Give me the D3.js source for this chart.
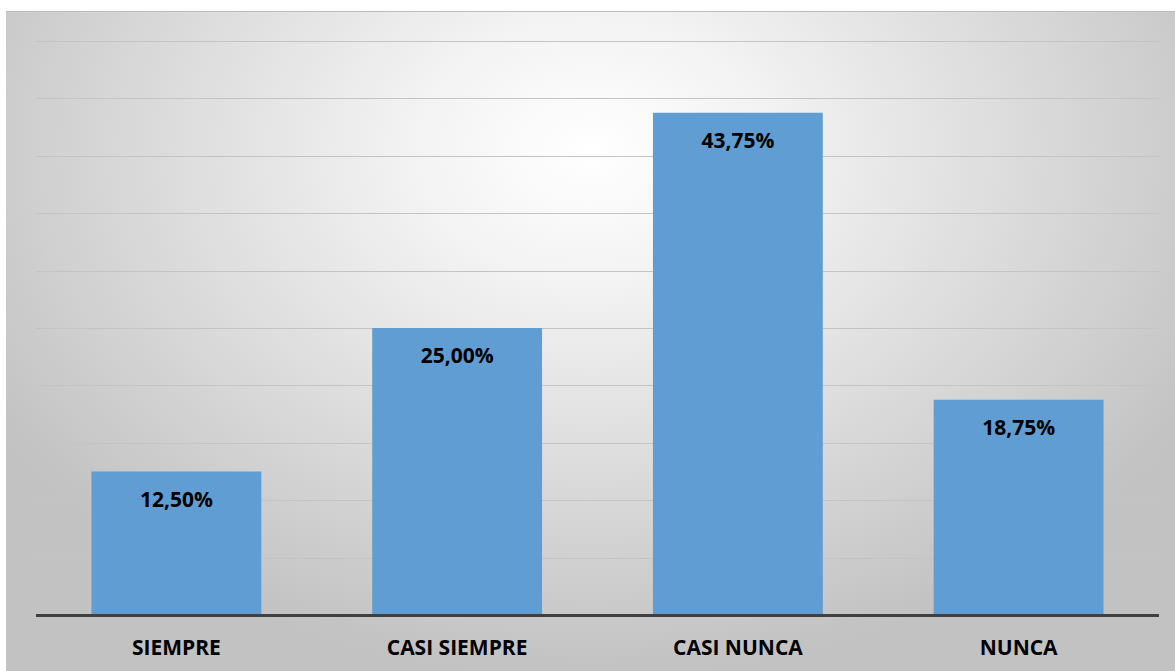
<!DOCTYPE html>
<html>
<head>
<meta charset="utf-8">
<script src="https://cdn.jsdelivr.net/npm/d3@7"></script>
<style>
  html, body { margin: 0; padding: 0; background: #ffffff; }
  svg { display: block; }
</style>
</head>
<body>
<svg id="chart" width="1175" height="671"></svg>
<script>
// Response categories and their shares (percent)
const categories = ["SIEMPRE", "CASI SIEMPRE", "CASI NUNCA", "NUNCA"];
const percentages = [12.5, 25.0, 43.75, 18.75];
const gridTicks = [0, 5, 10, 15, 20, 25, 30, 35, 40, 45, 50];

const W = 1175, H = 671;
const svg = d3.select("#chart");

// Panel background: soft radial gradient, light in the upper centre
const defs = svg.append("defs");
const grad = defs.append("radialGradient")
  .attr("id", "bg")
  .attr("gradientUnits", "userSpaceOnUse")
  .attr("cx", 590).attr("cy", 150).attr("r", 700)
  .attr("fx", 590).attr("fy", 150)
  .attr("gradientTransform", "translate(590,150) scale(1,0.75) translate(-590,-150)");
grad.append("stop").attr("offset", "0").attr("stop-color", "#ffffff");
grad.append("stop").attr("offset", "0.25").attr("stop-color", "#f3f3f3");
grad.append("stop").attr("offset", "1").attr("stop-color", "#c2c2c2");

svg.append("rect")
  .attr("x", 6).attr("y", 11)
  .attr("width", W - 6).attr("height", H - 11)
  .attr("fill", "url(#bg)");
svg.append("line")
  .attr("x1", 6).attr("x2", W).attr("y1", 11.5).attr("y2", 11.5)
  .attr("stroke", "#bdbdbd").attr("stroke-width", 1);

// Plot area
const plot = { left: 36, right: 1159, top: 41, bottom: 615 };

const x = d3.scaleBand()
  .domain(categories)
  .range([plot.left, plot.right])
  .paddingInner(0.395)
  .paddingOuter(0.1975);

const y = d3.scaleLinear()
  .domain([0, 50])
  .range([plot.bottom, plot.top]);

// Horizontal gridlines
svg.append("g")
  .selectAll("line")
  .data(gridTicks.filter(t => t > 0))
  .join("line")
  .attr("x1", plot.left).attr("x2", plot.right)
  .attr("y1", d => Math.round(y(d)) + 0.5)
  .attr("y2", d => Math.round(y(d)) + 0.5)
  .attr("stroke", "#c4c4c4")
  .attr("stroke-width", 1.2);

// Bars
svg.append("g")
  .selectAll("rect")
  .data(percentages)
  .join("rect")
  .attr("x", (d, i) => x(categories[i]))
  .attr("y", d => y(d))
  .attr("width", x.bandwidth())
  .attr("height", d => y(0) - y(d))
  .attr("fill", "#5f9dd2");

// Value labels inside the top of each bar
const fmt = v => v.toFixed(2).replace(".", ",") + "%";
svg.append("g")
  .selectAll("text")
  .data(percentages)
  .join("text")
  .attr("x", (d, i) => x(categories[i]) + x.bandwidth() / 2)
  .attr("y", d => y(d) + 35)
  .attr("text-anchor", "middle")
  .attr("font-family", "'Open Sans', 'DejaVu Sans', sans-serif")
  .attr("font-weight", 700)
  .attr("font-size", 21)
  .attr("fill", "#000000")
  .text(fmt);

// Baseline
svg.append("line")
  .attr("x1", plot.left).attr("x2", plot.right)
  .attr("y1", plot.bottom + 0.5).attr("y2", plot.bottom + 0.5)
  .attr("stroke", "#404040")
  .attr("stroke-width", 3);

// Category axis labels
const xAxis = svg.append("g")
  .attr("transform", `translate(0,${plot.bottom})`)
  .call(d3.axisBottom(x).tickSize(0).tickPadding(25));
xAxis.select(".domain").remove();
xAxis.selectAll("text")
  .attr("font-family", "'Open Sans', 'DejaVu Sans', sans-serif")
  .attr("font-weight", 700)
  .attr("font-size", 21)
  .attr("fill", "#000000");
</script>
</body>
</html>
